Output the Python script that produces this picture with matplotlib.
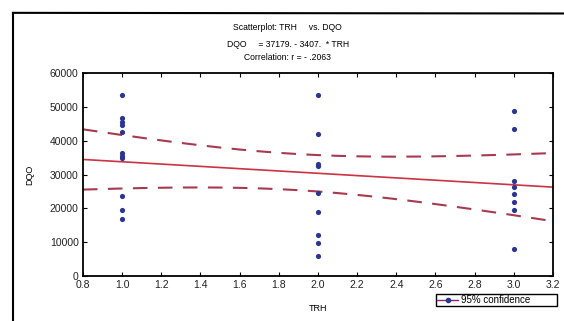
import numpy as np
import matplotlib.pyplot as plt
from matplotlib.lines import Line2D

plt.rcParams['font.family'] = ['Liberation Sans', 'DejaVu Sans']

# DQO values, grouped by TRH level
trh_levels = [1.0, 2.0, 3.0]
dqo_trh1 = [53500, 46600, 45600, 44600, 42700, 36300, 35500, 34800, 23600, 19500, 17000]
dqo_trh2 = [53500, 41900, 33100, 32500, 24600, 18800, 12100, 9700, 6000]
dqo_trh3 = [48800, 43500, 28100, 26200, 24200, 22000, 19500, 7900]

# fit as printed in the title
intercept = 37179.
slope = -3407.
t_crit = 2.056  # t(0.975, n-2), n = 28

x_ticks = [0.8, 1.0, 1.2, 1.4, 1.6, 1.8, 2.0, 2.2, 2.4, 2.6, 2.8, 3.0, 3.2]
y_ticks = [0, 10000, 20000, 30000, 40000, 50000, 60000]

groups = [dqo_trh1, dqo_trh2, dqo_trh3]
x = np.concatenate([np.full(len(g), lv) for lv, g in zip(trh_levels, groups)])
y = np.concatenate([np.array(g, float) for g in groups])

n = len(x)
xbar = x.mean()
sxx = ((x - xbar) ** 2).sum()
res = y - (intercept + slope * x)
s = np.sqrt((res ** 2).sum() / (n - 2))

xs = np.linspace(0.8, 3.2, 200)
fit = intercept + slope * xs
half = t_crit * s * np.sqrt(1.0 / n + (xs - xbar) ** 2 / sxx)

fig = plt.figure(figsize=(5.64, 3.21), dpi=100)
ax = fig.add_axes([0.147, 0.140, 0.8335, 0.6326])

ax.plot(xs, fit, color='#cc3344', lw=1.2, zorder=2)
ax.plot(xs, fit + half, color='#a83a50', lw=1.5, dashes=(7, 5), zorder=2)
ax.plot(xs, fit - half, color='#a83a50', lw=1.5, dashes=(7, 5), zorder=2)
ax.scatter(x, y, s=14, color='#2c3590', zorder=3, linewidths=0)

ax.set_xlim(0.8, 3.2)
ax.set_ylim(0, 60000)
ax.set_xticks(x_ticks)
ax.set_xticklabels([f'{v:.1f}' for v in x_ticks])
ax.set_yticks(y_ticks)
ax.set_yticklabels([str(v) for v in y_ticks])
ax.tick_params(direction='in', length=3, width=0.8, top=True, right=True,
               labelsize=7.5, labelcolor='#222222', pad=3)
for sp in ax.spines.values():
    sp.set_linewidth(1.3)

ax.set_xlabel('TRH', fontsize=6.5, labelpad=10)
ax.set_ylabel('DQO', fontsize=6.5, labelpad=11)

fig.text(0.51, 0.915, 'Scatterplot: TRH     vs. DQO', ha='center', va='center', fontsize=6.2)
fig.text(0.51, 0.862, 'DQO     = 37179. - 3407.  * TRH', ha='center', va='center', fontsize=6.2)
fig.text(0.51, 0.822, 'Correlation: r = - .2063', ha='center', va='center', fontsize=6.2)

# outer frame (left and top edges visible)
fig.add_artist(Line2D([0.023, 0.023], [0.0, 0.96], color='black', lw=1.5))
fig.add_artist(Line2D([0.023, 1.0], [0.96, 0.958], color='black', lw=1.5))

handle = Line2D([0], [0], color='#8a2a6a', lw=1, marker='o', markersize=3,
                markerfacecolor='#2c3590', markeredgecolor='#2c3590')
leg = fig.legend([handle], ['95% confidence'], loc='upper left',
                 bbox_to_anchor=(0.773, 0.05, 0.2145, 0.034), mode='expand',
                 fontsize=7, fancybox=False,
                 edgecolor='black', framealpha=1, borderpad=0.1,
                 handlelength=2.2, handletextpad=0.3, borderaxespad=0)
leg.get_frame().set_linewidth(1.0)

fig.savefig('out.png', dpi=100)
